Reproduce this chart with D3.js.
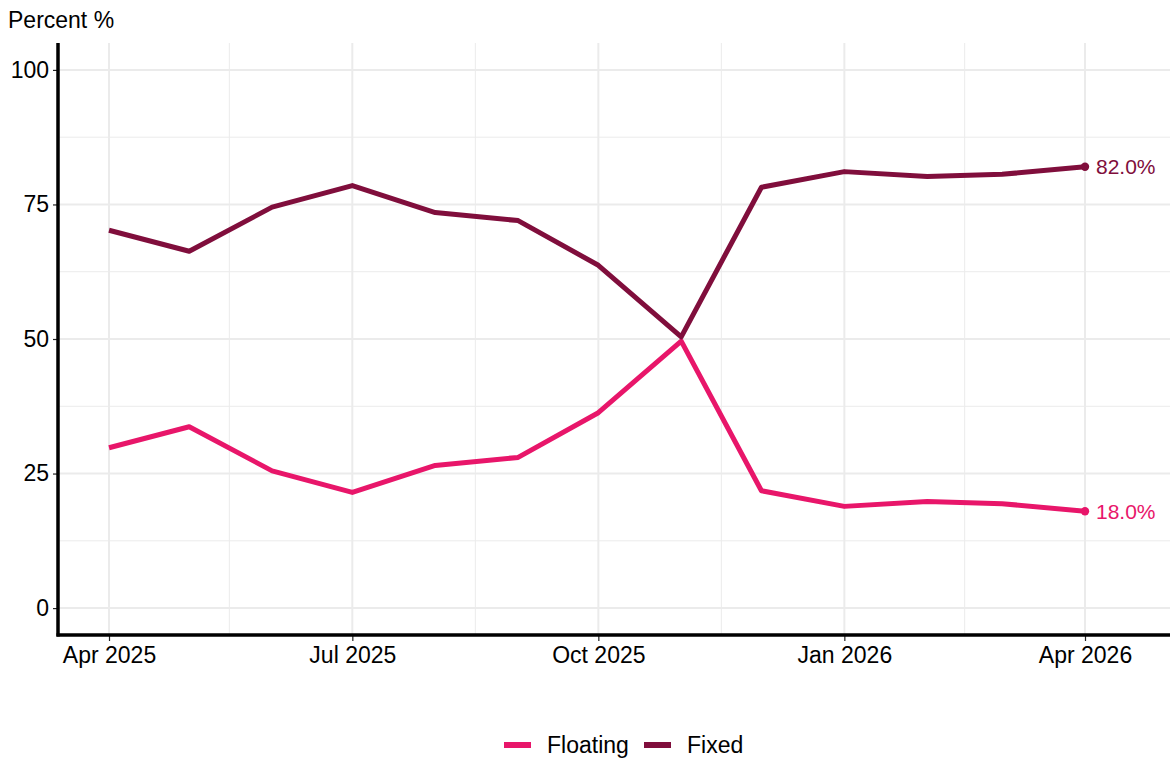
<!DOCTYPE html>
<html>
<head>
<meta charset="utf-8">
<script src="https://cdn.jsdelivr.net/npm/d3@7"></script>
<style>
  html, body { margin: 0; padding: 0; background: #ffffff; }
  svg { display: block; font-family: "Liberation Sans", Arial, sans-serif; }
</style>
</head>
<body>
<svg id="chart" width="1172" height="762"></svg>
<script>
// Monthly share of new loans by rate type
const months = ["2025-04","2025-05","2025-06","2025-07","2025-08","2025-09","2025-10",
                "2025-11","2025-12","2026-01","2026-02","2026-03","2026-04"];
const fixed    = [70.2, 66.3, 74.5, 78.5, 73.5, 72.0, 63.7, 50.4, 78.2, 81.1, 80.2, 80.6, 82.0];
const floating = [29.8, 33.7, 25.5, 21.5, 26.5, 28.0, 36.3, 49.6, 21.8, 18.9, 19.8, 19.4, 18.0];
const seriesNames = ["Floating", "Fixed"];
const seriesColors = ["#e8166a", "#800e3c"];
const yTicks = [0, 25, 50, 75, 100];
const yMinor = [12.5, 37.5, 62.5, 87.5];
const xTickDates = ["2025-04","2025-07","2025-10","2026-01","2026-04"];
const xMinorDates = ["2025-05-16","2025-08-16","2025-11-16","2026-02-15"];
const yTitle = "Percent %";

const parseMonth = d3.timeParse("%Y-%m");
const parseDay = d3.timeParse("%Y-%m-%d");
const dates = months.map(parseMonth);

const svg = d3.select("#chart");
const panel = { left: 58, right: 1170, top: 43, bottom: 635 };

// time scale: first and last month pinned, panel extends past them
const x = d3.scaleTime()
  .domain([dates[0], dates[dates.length - 1]])
  .range([109, 1085]);
const y = d3.scaleLinear().domain([-5, 105]).range([panel.bottom, panel.top]);

const grid = svg.append("g");
// minor grid
grid.selectAll("line.ymin").data(yMinor).join("line")
  .attr("x1", panel.left).attr("x2", panel.right)
  .attr("y1", d => y(d)).attr("y2", d => y(d))
  .attr("stroke", "#ebebeb").attr("stroke-width", 1);
grid.selectAll("line.xmin").data(xMinorDates.map(parseDay)).join("line")
  .attr("y1", panel.top).attr("y2", panel.bottom)
  .attr("x1", d => x(d)).attr("x2", d => x(d))
  .attr("stroke", "#ebebeb").attr("stroke-width", 1);
// major grid
grid.selectAll("line.ymaj").data(yTicks).join("line")
  .attr("x1", panel.left).attr("x2", panel.right)
  .attr("y1", d => y(d)).attr("y2", d => y(d))
  .attr("stroke", "#ebebeb").attr("stroke-width", 2);
grid.selectAll("line.xmaj").data(xTickDates.map(parseMonth)).join("line")
  .attr("y1", panel.top).attr("y2", panel.bottom)
  .attr("x1", d => x(d)).attr("x2", d => x(d))
  .attr("stroke", "#ebebeb").attr("stroke-width", 2);

// lines
const line = d3.line().x((d, i) => x(dates[i])).y(d => y(d));
const allSeries = [floating, fixed];
allSeries.forEach((vals, si) => {
  svg.append("path")
    .attr("d", line(vals))
    .attr("fill", "none")
    .attr("stroke", seriesColors[si])
    .attr("stroke-width", 5)
    .attr("stroke-linejoin", "round")
    .attr("stroke-linecap", "butt");
  const last = vals.length - 1;
  svg.append("circle")
    .attr("cx", x(dates[last])).attr("cy", y(vals[last]))
    .attr("r", 4.2).attr("fill", seriesColors[si]);
  svg.append("text")
    .attr("x", x(dates[last]) + 11).attr("y", y(vals[last]))
    .attr("dy", "0.35em")
    .attr("font-size", 21)
    .attr("fill", seriesColors[si])
    .text(d3.format(".1f")(vals[last]) + "%");
});

// axes
const yAxis = svg.append("g")
  .attr("transform", `translate(${panel.left},0)`)
  .call(d3.axisLeft(y).tickValues(yTicks).tickSize(5).tickPadding(4).tickFormat(d3.format("d")));
const xAxis = svg.append("g")
  .attr("transform", `translate(0,${panel.bottom})`)
  .call(d3.axisBottom(x).tickValues(xTickDates.map(parseMonth)).tickSize(6).tickPadding(6)
    .tickFormat(d3.timeFormat("%b %Y")));
[yAxis, xAxis].forEach(g => {
  g.select(".domain").remove();
  g.selectAll(".tick line").attr("stroke", "#222").attr("stroke-width", 1.2);
  g.selectAll(".tick text").attr("fill", "#000").attr("font-size", 23)
    .attr("font-family", "Liberation Sans, Arial, sans-serif");
});
svg.append("line")
  .attr("x1", panel.left).attr("x2", panel.left)
  .attr("y1", panel.top).attr("y2", panel.bottom + 1.5)
  .attr("stroke", "#000").attr("stroke-width", 3.5);
svg.append("line")
  .attr("x1", panel.left - 1.5).attr("x2", panel.right)
  .attr("y1", panel.bottom).attr("y2", panel.bottom)
  .attr("stroke", "#000").attr("stroke-width", 3.5);

// y title
svg.append("text")
  .attr("x", 8).attr("y", 28)
  .attr("font-size", 23).attr("fill", "#000")
  .text(yTitle);

// legend
const legend = svg.append("g");
const legendItems = [
  { name: seriesNames[0], color: seriesColors[0], x: 504 },
  { name: seriesNames[1], color: seriesColors[1], x: 644 }
];
legendItems.forEach(it => {
  legend.append("line")
    .attr("x1", it.x).attr("x2", it.x + 27)
    .attr("y1", 745).attr("y2", 745)
    .attr("stroke", it.color).attr("stroke-width", 6);
  legend.append("text")
    .attr("x", it.x + 43).attr("y", 745).attr("dy", "0.35em")
    .attr("font-size", 23).attr("fill", "#000")
    .text(it.name);
});
</script>
</body>
</html>
